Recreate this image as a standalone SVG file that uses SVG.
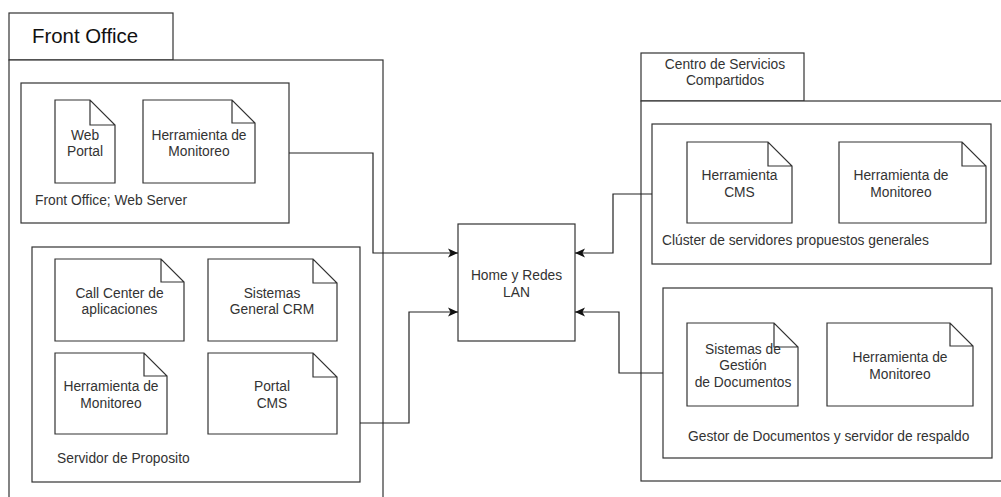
<svg xmlns="http://www.w3.org/2000/svg" width="1001" height="497" viewBox="0 0 1001 497">
  <style>
    .frame { fill: #fff; stroke: #333; stroke-width: 1.2; }
    .doc { fill: #fff; stroke: #333; stroke-width: 1.2; stroke-linejoin: miter; }
    .t { font-family: "Liberation Sans", Arial, sans-serif; font-size: 13.8px; fill: #333; }
    .c { text-anchor: middle; }
    .title { font-family: "Liberation Sans", Arial, sans-serif; font-size: 20.4px; fill: #111; }
    .wire { fill: none; stroke: #222; stroke-width: 1.2; }
  </style>
  <defs>
    <marker id="arrow" viewBox="0 0 10 10" refX="10" refY="5" markerWidth="10" markerHeight="10" markerUnits="userSpaceOnUse" orient="auto">
      <path d="M10,5 L0,0.5 L2.5,5 L0,9.5 Z" fill="#111"/>
    </marker>
  </defs>
  <rect width="1001" height="497" fill="#fff"/>

  <!-- Front Office package -->
  <g id="front-office">
    <rect class="frame" x="9" y="13" width="164" height="47"/>
    <rect class="frame" x="9" y="60" width="374" height="460"/>
    <text class="title" x="32" y="43">Front Office</text>
  </g>

  <g id="web-server">
    <rect class="frame" x="21" y="83" width="268" height="140"/>
    <text class="t" x="35" y="205">Front Office; Web Server</text>
  </g>
  <g id="web-portal">
    <path class="doc" d="M55,100 H90 L115,125 V183 H55 Z M90,100 V125 H115"/>
    <text class="t c" x="85" y="140">Web</text>
    <text class="t c" x="85" y="156">Portal</text>
  </g>
  <g id="monitoreo-web">
    <path class="doc" d="M143,100 H232 L255,123 V183 H143 Z M232,100 V123 H255"/>
    <text class="t c" x="199" y="139.5">Herramienta de</text>
    <text class="t c" x="199" y="156">Monitoreo</text>
  </g>

  <g id="servidor-proposito">
    <rect class="frame" x="32" y="247" width="328" height="235"/>
    <text class="t" x="57" y="463">Servidor de Proposito</text>
  </g>
  <g id="call-center">
    <path class="doc" d="M55,259 H161 L184,282 V341 H55 Z M161,259 V282 H184"/>
    <text class="t c" x="119.5" y="297.5">Call Center de</text>
    <text class="t c" x="119.5" y="314">aplicaciones</text>
  </g>
  <g id="crm">
    <path class="doc" d="M208,259 H313 L337,283 V341 H208 Z M313,259 V283 H337"/>
    <text class="t c" x="272" y="297.5">Sistemas</text>
    <text class="t c" x="272" y="314">General CRM</text>
  </g>
  <g id="monitoreo-servidor">
    <path class="doc" d="M55,353 H144 L167,376 V434 H55 Z M144,353 V376 H167"/>
    <text class="t c" x="111" y="391">Herramienta de</text>
    <text class="t c" x="111" y="407.5">Monitoreo</text>
  </g>
  <g id="portal-cms">
    <path class="doc" d="M208,353 H313 L337,377 V434 H208 Z M313,353 V377 H337"/>
    <text class="t c" x="272" y="391">Portal</text>
    <text class="t c" x="272" y="407.5">CMS</text>
  </g>

  <!-- Network hub -->
  <g id="lan">
    <rect class="frame" x="458" y="224" width="117" height="117"/>
    <text class="t c" x="516.5" y="280">Home y Redes</text>
    <text class="t c" x="516.5" y="296.5">LAN</text>
  </g>

  <!-- Shared services package -->
  <g id="centro-servicios">
    <rect class="frame" x="641" y="53" width="163" height="48"/>
    <rect class="frame" x="641" y="101" width="380" height="380"/>
    <text class="t c" x="725" y="68.5">Centro de Servicios</text>
    <text class="t c" x="725" y="85">Compartidos</text>
  </g>

  <g id="cluster">
    <rect class="frame" x="652" y="124" width="339" height="140"/>
    <text class="t" x="662" y="244.5">Clúster de servidores propuestos generales</text>
  </g>
  <g id="herramienta-cms">
    <path class="doc" d="M687,142 H768 L792,166 V223 H687 Z M768,142 V166 H792"/>
    <text class="t c" x="739.5" y="180">Herramienta</text>
    <text class="t c" x="739.5" y="196.5">CMS</text>
  </g>
  <g id="monitoreo-cluster">
    <path class="doc" d="M839,142 H962 L986,166 V223 H839 Z M962,142 V166 H986"/>
    <text class="t c" x="901" y="180">Herramienta de</text>
    <text class="t c" x="901" y="196.5">Monitoreo</text>
  </g>

  <g id="gestor-documentos">
    <rect class="frame" x="663" y="288" width="329" height="170"/>
    <text class="t" x="688" y="441">Gestor de Documentos y servidor de respaldo</text>
  </g>
  <g id="sistemas-gestion">
    <path class="doc" d="M687,323 H774 L798,347 V406 H687 Z M774,323 V347 H798"/>
    <text class="t c" x="743" y="353.5">Sistemas de</text>
    <text class="t c" x="743" y="370">Gestión</text>
    <text class="t c" x="743" y="386.5">de Documentos</text>
  </g>
  <g id="monitoreo-gestor">
    <path class="doc" d="M827,323 H950 L973,346 V406 H827 Z M950,323 V346 H973"/>
    <text class="t c" x="900" y="362">Herramienta de</text>
    <text class="t c" x="900" y="378.5">Monitoreo</text>
  </g>

  <!-- Connectors -->
  <g id="connectors">
    <path class="wire" d="M289,153 H373 V253 H458" marker-end="url(#arrow)"/>
    <path class="wire" d="M360,423 H409 V312 H458" marker-end="url(#arrow)"/>
    <path class="wire" d="M652,194 H613 V253 H575" marker-end="url(#arrow)"/>
    <path class="wire" d="M663,373 H619 V312 H575" marker-end="url(#arrow)"/>
  </g>
</svg>
